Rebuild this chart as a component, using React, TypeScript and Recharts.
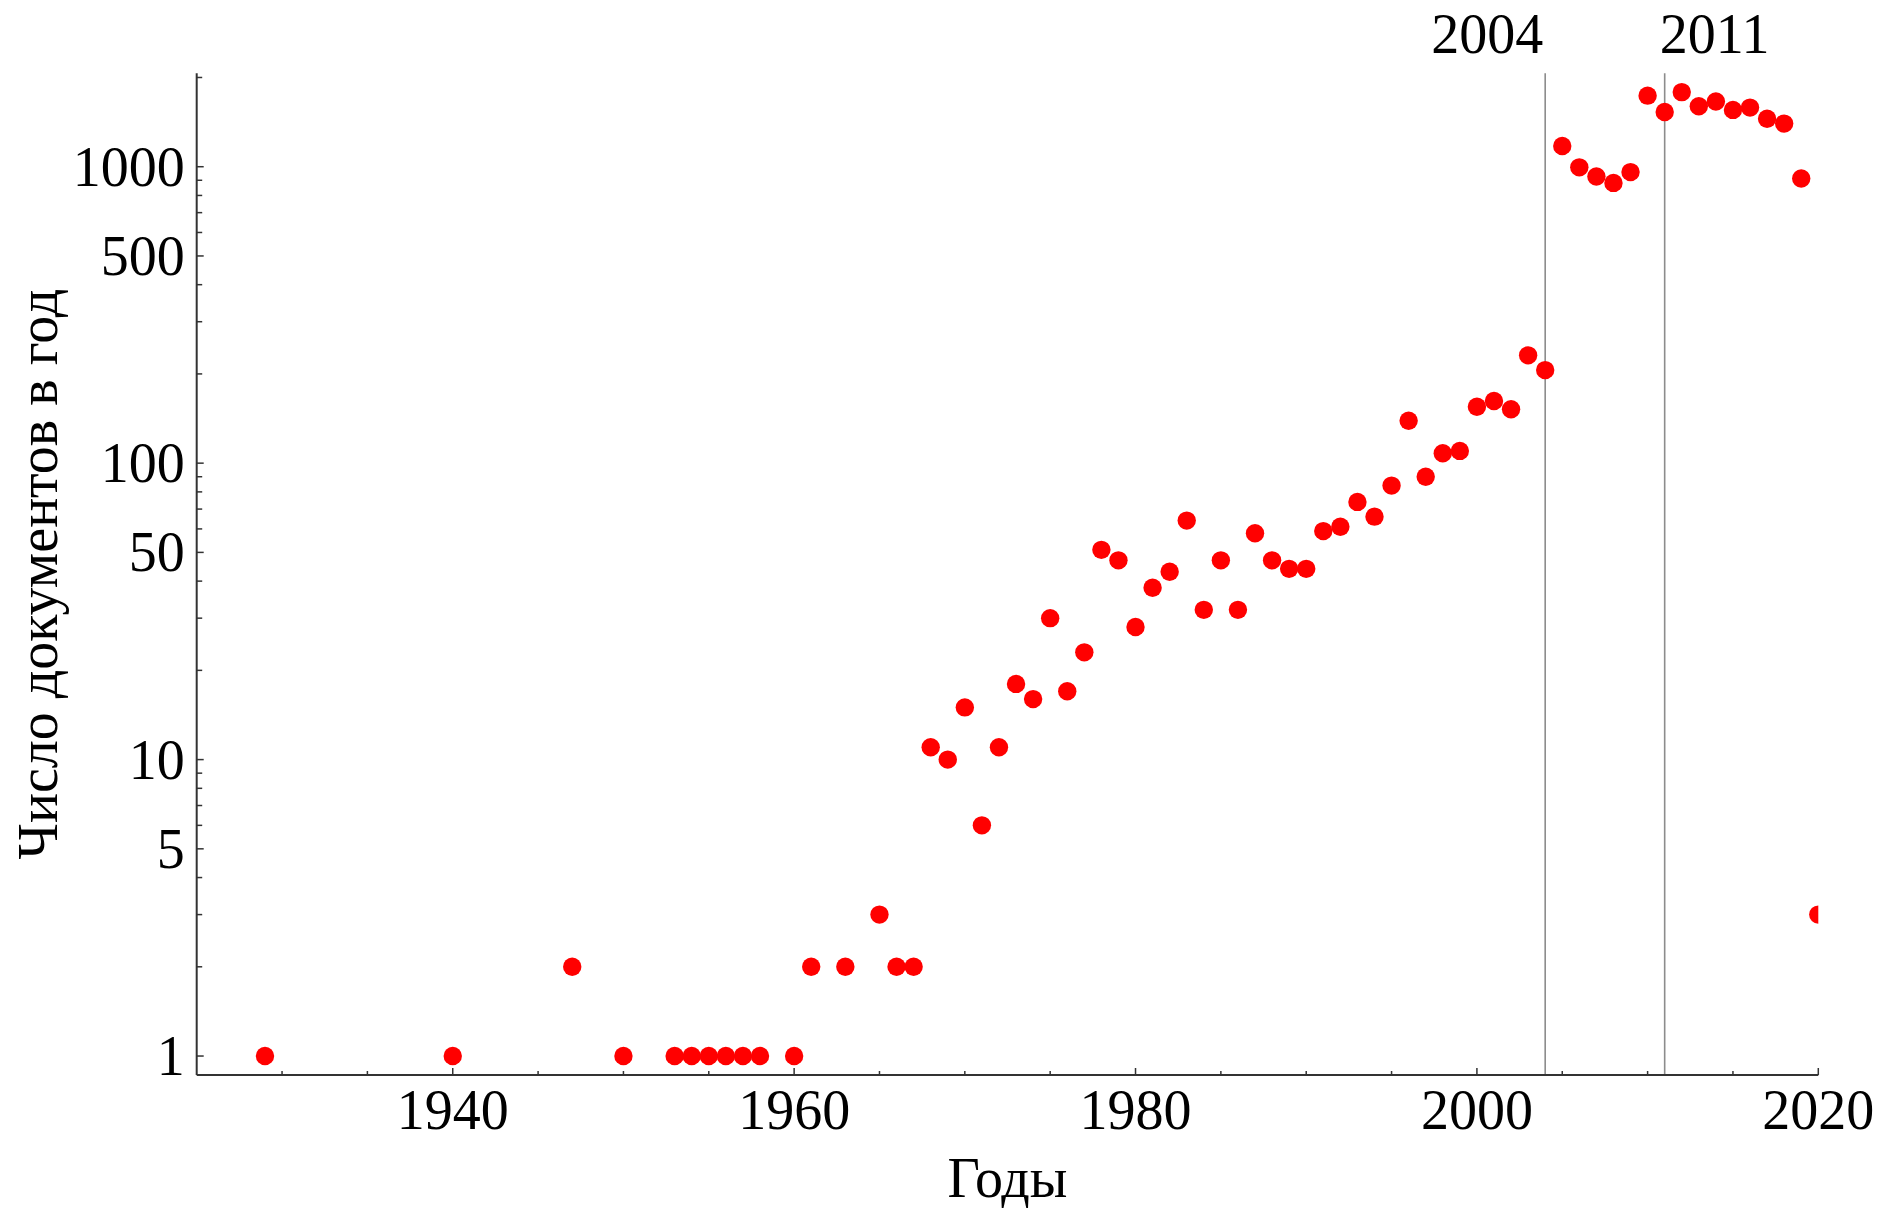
import React from 'react';
import { ScatterChart, Scatter, XAxis, YAxis, ReferenceLine, Label } from 'recharts';

const years = [1929, 1940, 1947, 1950, 1953, 1954, 1955, 1956, 1957, 1958, 1960, 1961, 1963, 1965, 1966, 1967,
  1968, 1969, 1970, 1971, 1972, 1973, 1974, 1975, 1976, 1977,
  1978, 1979, 1980, 1981, 1982, 1983, 1984, 1985, 1986, 1987,
  1988, 1989, 1990, 1991, 1992, 1993, 1994, 1995, 1996, 1997,
  1998, 1999, 2000, 2001, 2002, 2003, 2004, 2005, 2006, 2007,
  2008, 2009, 2010, 2011, 2012, 2013, 2014, 2015, 2016, 2017,
  2018, 2019, 2020];
const counts = [1, 1, 2, 1, 1, 1, 1, 1, 1, 1, 1, 2, 2, 3, 2, 2,
  11, 10, 15, 6, 11, 18, 16, 30, 17, 23,
  51, 47, 28, 38, 43, 64, 32, 47, 32, 58,
  47, 44, 44, 59, 61, 74, 66, 84, 139, 90,
  108, 110, 155, 162, 152, 231, 206, 1175, 995, 927,
  882, 959, 1737, 1530, 1785, 1600, 1660, 1555, 1583, 1452,
  1398, 913, 3];

const markerYears = [2004, 2011];

const xMajorTicks = [1940, 1960, 1980, 2000, 2020];
const xMinorTicks = [1930, 1935, 1945, 1950, 1955, 1965, 1970, 1975, 1985, 1990, 1995, 2005, 2010, 2015];
const yMajorTicks = [1, 5, 10, 50, 100, 500, 1000];
const yMinorTicks = [2, 3, 4, 6, 7, 8, 9, 20, 30, 40, 60, 70, 80, 90, 200, 300, 400, 600, 700, 800, 900, 2000];

const xDomain: [number, number] = [1925, 2020];
const yDomain: [number, number] = [0.863, 2066];

const xTitle = 'Годы';
const yTitle = 'Число документов в год';

const data = years.map((year, i) => ({ year, count: counts[i] }));

const FONT = "'Liberation Serif', 'Times New Roman', serif";
const FRAME = '#333333';

const YTick = (props: any) => {
  const { x, y, payload } = props;
  const v = payload.value;
  const major = yMajorTicks.includes(v);
  return (
    <g>
      <line x1={x} y1={y} x2={x + (major ? 7 : 5.5)} y2={y} stroke={FRAME} strokeWidth={1.5} />
      {major && (
        <text x={x - 12} y={y + 19} textAnchor="end" fontFamily={FONT} fontSize={56} fill="#000">
          {v}
        </text>
      )}
    </g>
  );
};

const XTick = (props: any) => {
  const { x, y, payload } = props;
  const v = payload.value;
  const major = xMajorTicks.includes(v);
  return (
    <g>
      <line x1={x} y1={y} x2={x} y2={y - (major ? 7 : 4)} stroke={FRAME} strokeWidth={1.5} />
      {major && (
        <text x={x} y={y + 54} textAnchor="middle" fontFamily={FONT} fontSize={56} fill="#000">
          {v}
        </text>
      )}
    </g>
  );
};

const XTitle = (props: any) => {
  const vb = props.viewBox || {};
  return (
    <text x={vb.x + vb.width / 2} y={vb.y + 122} textAnchor="middle" fontFamily={FONT} fontSize={56} fill="#000">
      {xTitle}
    </text>
  );
};

const YTitle = (props: any) => {
  const vb = props.viewBox || {};
  const cx = vb.x + 57;
  const cy = vb.y + vb.height / 2;
  return (
    <text x={cx} y={cy} transform={`rotate(-90, ${cx}, ${cy})`} textAnchor="middle" fontFamily={FONT} fontSize={56} fill="#000">
      {yTitle}
    </text>
  );
};

const MarkerLabel = (props: any) => {
  const vb = props.viewBox || {};
  const year = props.year;
  const isLeft = year === markerYears[0];
  return (
    <text
      x={isLeft ? vb.x - 2 : vb.x - 5}
      y={vb.y - 20}
      textAnchor={isLeft ? 'end' : 'start'}
      fontFamily={FONT}
      fontSize={56}
      fill="#000"
    >
      {year}
    </text>
  );
};

const Dot = (props: any) => {
  const { cx, cy } = props;
  if (cx == null || cy == null) return null;
  return <circle cx={cx} cy={cy} r={9.2} fill="#ff0000" />;
};

export default function App() {
  return (
    <div style={{ position: 'absolute', left: 0, top: 0, width: 1877, height: 1209, background: '#fff' }}>
      <ScatterChart width={1877} height={1209} margin={{ top: 73.3, right: 58.7, bottom: 0, left: 0 }}>
        <XAxis
          xAxisId="main"
          dataKey="year"
          type="number"
          domain={xDomain}
          allowDataOverflow
          ticks={[...xMinorTicks, ...xMajorTicks].sort((a, b) => a - b)}
          interval={0}
          tickSize={0}
          tickMargin={0}
          tickLine={false}
          tick={<XTick />}
          height={134}
          axisLine={{ stroke: FRAME, strokeWidth: 2 }}
        >
          <Label content={<XTitle />} />
        </XAxis>
        <XAxis
          xAxisId="top"
          orientation="top"
          type="number"
          domain={xDomain}
          allowDataOverflow
          height={0}
          tick={false}
          tickLine={false}
          axisLine={{ stroke: FRAME, strokeWidth: 2 }}
        />
        <YAxis
          yAxisId="main"
          dataKey="count"
          type="number"
          scale="log"
          domain={yDomain}
          allowDataOverflow
          ticks={[...yMinorTicks, ...yMajorTicks].sort((a, b) => a - b)}
          interval={0}
          tickSize={0}
          tickMargin={0}
          tickLine={false}
          tick={<YTick />}
          width={196.7}
          axisLine={{ stroke: FRAME, strokeWidth: 2 }}
        >
          <Label content={<YTitle />} />
        </YAxis>
        <YAxis
          yAxisId="right"
          orientation="right"
          type="number"
          scale="log"
          domain={yDomain}
          allowDataOverflow
          width={0}
          tick={false}
          tickLine={false}
          axisLine={{ stroke: FRAME, strokeWidth: 2 }}
        />
        {markerYears.map((yr) => (
          <ReferenceLine
            key={yr}
            x={yr}
            xAxisId="main"
            yAxisId="main"
            stroke="#8c8c8c"
            strokeWidth={1.6}
            label={<MarkerLabel year={yr} />}
          />
        ))}
        <Scatter
          data={data}
          xAxisId="main"
          yAxisId="main"
          fill="#ff0000"
          shape={<Dot />}
          isAnimationActive={false}
        />
      </ScatterChart>
    </div>
  );
}
